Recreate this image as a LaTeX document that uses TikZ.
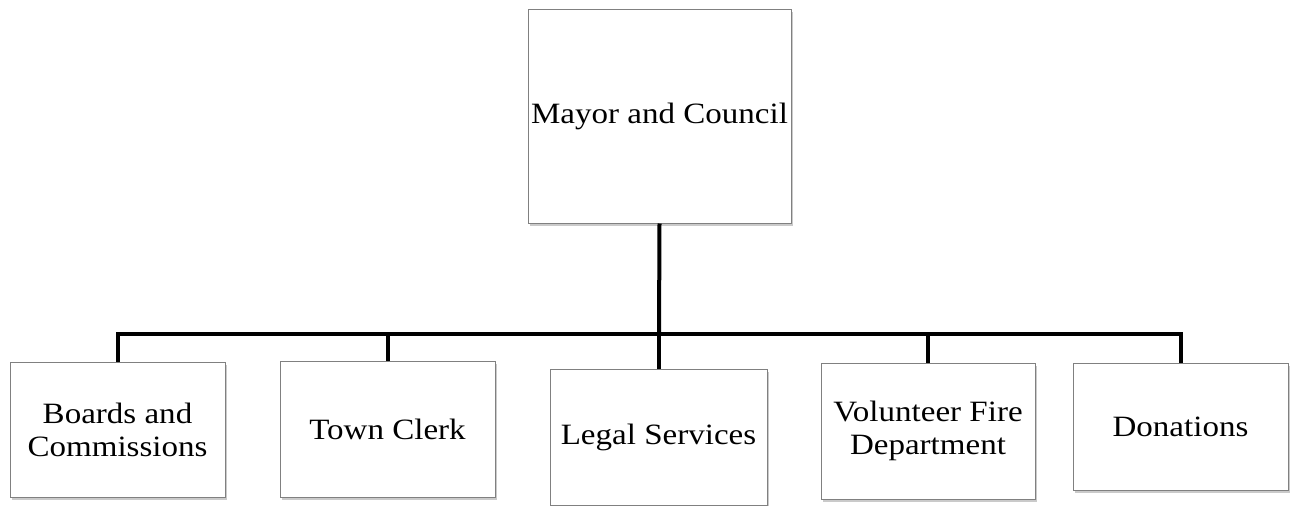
\documentclass[tikz,border=0pt]{standalone}
\usepackage{fontspec}
\setmainfont{Liberation Serif}[FakeStretch=1.12]
\usetikzlibrary{shadows}
\begin{document}
\begin{tikzpicture}[x=1pt,y=-1pt,
  orgbox/.style={draw=black!50, line width=1pt, fill=white, align=center,
    inner sep=0pt, font=\fontsize{29.5}{33}\selectfont,
    drop shadow={shadow xshift=1.5pt, shadow yshift=-2.5pt, opacity=0.35, fill=black!60}},
  link/.style={line width=4pt, black}]
\useasboundingbox (0,0) rectangle (1294,506);
\node[orgbox, minimum width=263pt, minimum height=214pt] (mayor) at (659.5,116) {Mayor and Council};
\node[orgbox, minimum width=215pt, minimum height=135pt] (b1) at (117.5,429.5) {Boards and\\Commissions};
\node[orgbox, minimum width=215pt, minimum height=136pt] (b2) at (387.5,429) {Town Clerk};
\node[orgbox, minimum width=217pt, minimum height=136pt] (b3) at (658.5,437) {Legal Services};
\node[orgbox, minimum width=214pt, minimum height=136pt] (b4) at (928,431) {Volunteer Fire\\Department};
\node[orgbox, minimum width=215pt, minimum height=127pt] (b5) at (1180.5,426.5) {Donations};
\coordinate (bus) at (659,334);
\draw[link] (mayor.south) -- (bus);
\draw[link] (bus) -| (b1.north);
\draw[link] (bus) -| (b2.north);
\draw[link] (bus) -| (b3.north);
\draw[link] (bus) -| (b4.north);
\draw[link] (bus) -| (b5.north);
\end{tikzpicture}
\end{document}
